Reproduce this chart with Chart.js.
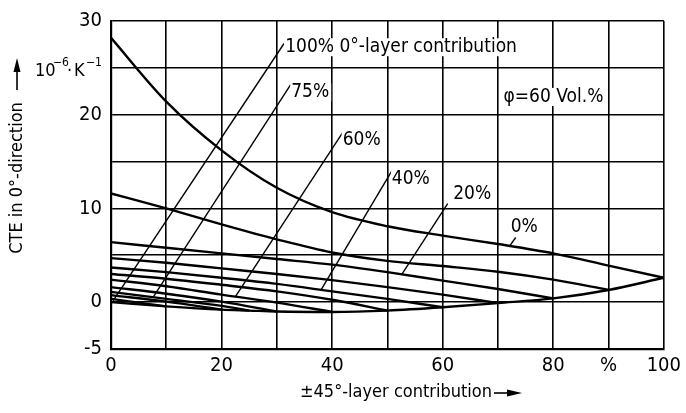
<!DOCTYPE html>
<html>
<head>
<meta charset="utf-8">
<script src="https://cdn.jsdelivr.net/npm/chart.js@4.4.1/dist/chart.umd.min.js"></script>
<style>
    html, body { margin: 0; padding: 0; background: #fff; }
</style>
</head>
<body>
<canvas id="cteChart" width="686" height="413"></canvas>
<script>
// ±45° share on the x axis, one curve per 0° share (rest is 90°)
const xFull = [0, 10, 20, 30, 40, 50, 60, 70, 80, 90, 100];
const cte0 = [28.2, 21.4, 16.2, 12.2, 9.6, 8.1, 7.1, 6.2, 5.2, 3.9, 2.6];
const cte10 = [11.6, 10.0, 8.3, 6.7, 5.3, 4.4, 3.85, 3.25, 2.4, 1.3];
const cte20 = [6.4, 5.8, 5.2, 4.6, 4.0, 3.2, 2.3, 1.4, 0.4];
const cte30 = [4.7, 4.2, 3.6, 3.0, 2.35, 1.6, 0.8, -0.1];
const cte40 = [3.7, 3.2, 2.6, 1.95, 1.15, 0.35, -0.55];
const cte50 = [3.0, 2.5, 1.85, 1.15, 0.25, -0.9];
const cte60 = [2.4, 1.7, 0.8, -0.05, -1.05];
const cte70 = [1.6, 0.9, 0.05, -1.0];
const x75 = [0, 10, 20, 25];
const cte75 = [1.1, 0.35, -0.4, -0.9];
const cte80 = [0.75, 0.05, -0.8];
const cte90 = [0.35, -0.45];

// no 90° layers: end points of all curves
const edgeX = [0, 10, 20, 25, 30, 40, 50, 60, 70, 80, 90, 100];
const edgeY = [0, -0.45, -0.8, -0.9, -1.0, -1.05, -0.9, -0.55, -0.1, 0.4, 1.3, 2.6];

// labels and their leader lines
const noteText = ['100% 0°-layer contribution', '75%', '60%', '40%', '20%', '0%', 'φ=60 Vol.%'];
const noteX = [31.5, 32.6, 41.9, 50.8, 61.9, 72.3, 71.0];
const noteY = [27.2, 22.4, 17.3, 13.1, 11.5, 8.0, 21.9];
const leaderFromX = [31.3, 32.5, 41.9, 50.8, 60.9, 73.2];
const leaderFromY = [27.6, 23.2, 18.1, 14.0, 10.5, 6.9];
const leaderToX = [0.4, 7.6, 22.5, 38.0, 52.6, 72.2];
const leaderToY = [0.15, 0.5, 0.59, 1.31, 2.97, 6.05];

const yTicks = [-5, 0, 10, 20, 30];
const xTickText = {0: '0', 20: '20', 40: '40', 60: '60', 80: '80', 90: '%', 100: '100'};

const FONT = '"DejaVu Sans Condensed", "Liberation Sans Narrow", sans-serif';

function pts(xs, ys) {
    return ys.map((v, i) => ({x: xs[i], y: v}));
}

function curve(xs, ys) {
    return {
        data: pts(xs, ys),
        borderColor: '#000',
        borderWidth: 2.4,
        showLine: true,
        cubicInterpolationMode: 'monotone',
        pointRadius: 0
    };
}

const datasets = [
    curve(xFull, cte0),
    curve(xFull, cte10),
    curve(xFull, cte20),
    curve(xFull, cte30),
    curve(xFull, cte40),
    curve(xFull, cte50),
    curve(xFull, cte60),
    curve(xFull, cte70),
    curve(x75, cte75),
    curve(xFull, cte80),
    curve(xFull, cte90),
    curve(edgeX, edgeY)
];

leaderFromX.forEach((fx, i) => {
    datasets.push({
        data: [{x: fx, y: leaderFromY[i]}, {x: leaderToX[i], y: leaderToY[i]}],
        borderColor: '#000',
        borderWidth: 1.4,
        showLine: true,
        pointRadius: 0
    });
});

const notesPlugin = {
    id: 'notes',
    afterDatasetsDraw(chart) {
        const {ctx, scales: {x, y}} = chart;
        ctx.save();
        ctx.font = '19px ' + FONT;
        ctx.textBaseline = 'middle';
        noteText.forEach((t, i) => {
            const px = x.getPixelForValue(noteX[i]);
            const py = y.getPixelForValue(noteY[i]);
            const w = ctx.measureText(t).width;
            ctx.fillStyle = '#fff';
            ctx.fillRect(px - 1, py - 9, w + 3, 18);
            ctx.fillStyle = '#000';
            ctx.fillText(t, px, py);
        });

        // unit next to the y axis
        const parts = [['10', 18, 35, 0], ['−6', 12, 53, -8], ['·', 18, 67, 0], ['K', 18, 74, 0], ['−1', 12, 86, -8]];
        parts.forEach(p => {
            ctx.font = p[1] + 'px ' + FONT;
            ctx.fillText(p[0], p[2], 71 + p[3]);
        });

        // y axis title with arrow
        ctx.save();
        ctx.translate(17, 178);
        ctx.rotate(-Math.PI / 2);
        ctx.font = '18px ' + FONT;
        ctx.textAlign = 'center';
        ctx.fillText('CTE in 0°-direction', 0, 0);
        ctx.restore();
        ctx.lineWidth = 1.6;
        ctx.beginPath();
        ctx.moveTo(17, 90);
        ctx.lineTo(17, 70);
        ctx.stroke();
        ctx.beginPath();
        ctx.moveTo(17, 58);
        ctx.lineTo(13.5, 72);
        ctx.lineTo(20.5, 72);
        ctx.closePath();
        ctx.fill();

        // x axis title with arrow
        ctx.font = '18px ' + FONT;
        ctx.textAlign = 'left';
        const xt = '±45°-layer contribution';
        ctx.fillText(xt, 300, 392);
        const ax = 300 + ctx.measureText(xt).width + 2;
        ctx.beginPath();
        ctx.moveTo(ax, 393);
        ctx.lineTo(ax + 16, 393);
        ctx.stroke();
        ctx.beginPath();
        ctx.moveTo(ax + 28, 393);
        ctx.lineTo(ax + 13, 389.5);
        ctx.lineTo(ax + 13, 396.5);
        ctx.closePath();
        ctx.fill();
        ctx.restore();
    }
};

new Chart(document.getElementById('cteChart'), {
    type: 'scatter',
    data: {datasets: datasets},
    options: {
        responsive: false,
        animation: false,
        layout: {padding: {left: 0, right: 16, top: 14, bottom: 0}},
        plugins: {legend: {display: false}, tooltip: {enabled: false}},
        scales: {
            x: {
                type: 'linear',
                min: 0,
                max: 100,
                afterFit: s => { s.height = 64; },
                ticks: {
                    stepSize: 10,
                    autoSkip: false,
                    maxRotation: 0,
                    padding: 5,
                    color: '#000',
                    font: {family: FONT, size: 20},
                    callback: v => (v in xTickText ? xTickText[v] : '')
                },
                grid: {color: '#000', lineWidth: 1.6, drawTicks: false},
                border: {color: '#000', width: 2.2}
            },
            y: {
                min: -5,
                max: 30,
                afterFit: s => { s.width = 111; },
                ticks: {
                    stepSize: 5,
                    autoSkip: false,
                    padding: 9,
                    color: '#000',
                    font: {family: FONT, size: 20},
                    callback: v => (yTicks.includes(v) ? String(v) : '')
                },
                grid: {color: '#000', lineWidth: 1.6, drawTicks: false},
                border: {color: '#000', width: 2.2}
            }
        }
    },
    plugins: [notesPlugin]
});
</script>
</body>
</html>
